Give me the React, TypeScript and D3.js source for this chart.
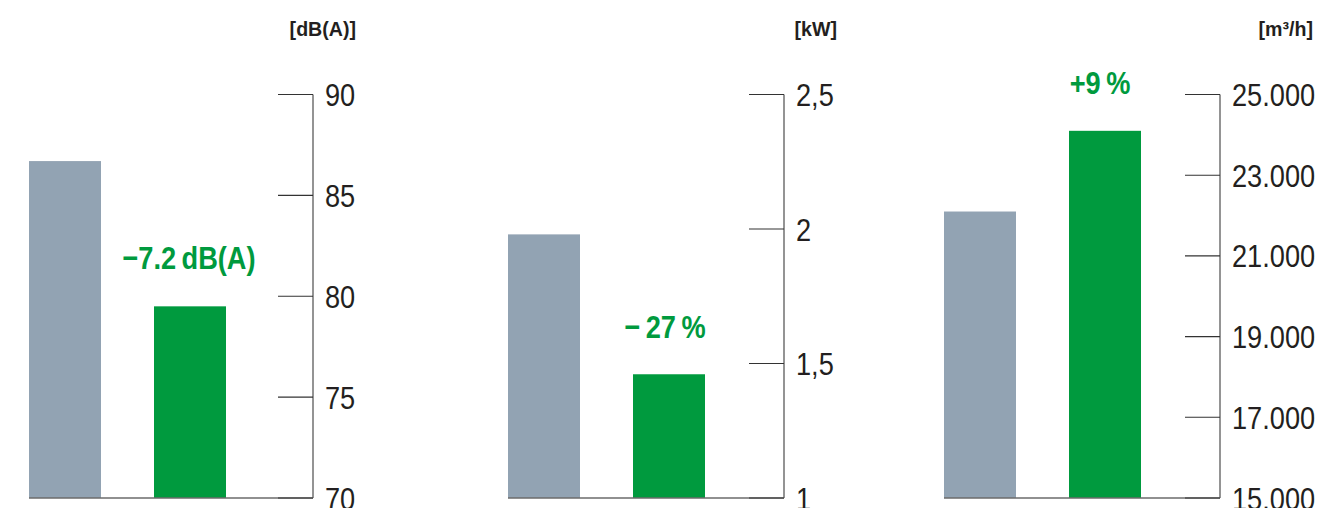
import React from "react";
import * as d3 from "d3";

// ---- data ----
const categories = ["old", "new"];
const noiseValues = [86.7, 79.5];
const powerValues = [1.98, 1.46];
const airflowValues = [22100, 24100];
const noiseTicks = [70, 75, 80, 85, 90];
const powerTicks = [1, 1.5, 2, 2.5];
const airflowTicks = [15000, 17000, 19000, 21000, 23000, 25000];
const units = ["[dB(A)]", "[kW]", "[m³/h]"];
const deltaLabels = ["\u22127.2\u2009dB(A)", "\u2212\u200927\u2009%", "+9\u2009%"];

const fmtNoise = (v: number) => String(v);
const fmtPower = (v: number) => String(v).replace(".", ",");
const fmtAir = (v: number) => d3.format(",")(v).replace(",", ".");

const W = 1320;
const H = 508;
const GRAY = "#92a3b3";
const GREEN = "#009a3e";
const TEXT = "#231f20";
const FONT = "'Liberation Sans', Arial, sans-serif";

type PanelDef = {
  values: number[];
  ticks: number[];
  domain: [number, number];
  fmt: (v: number) => string;
  unit: string;
  delta: string;
  barStart: number;
  axisX: number;
  labelAbove: number;
  labelDx: number;
  unitRight: number;
};

const panels: PanelDef[] = [
  { values: noiseValues, ticks: noiseTicks, domain: [70, 90], fmt: fmtNoise, unit: units[0], delta: deltaLabels[0], barStart: 29, axisX: 313, labelAbove: 37, labelDx: -1, unitRight: 356 },
  { values: powerValues, ticks: powerTicks, domain: [1, 2.5], fmt: fmtPower, unit: units[1], delta: deltaLabels[1], barStart: 508, axisX: 784, labelAbove: 36, labelDx: -4, unitRight: 837 },
  { values: airflowValues, ticks: airflowTicks, domain: [15000, 25000], fmt: fmtAir, unit: units[2], delta: deltaLabels[2], barStart: 944, axisX: 1220, labelAbove: 37, labelDx: -5, unitRight: 1313 },
];

const TOP = 94.5;
const BASE = 498;

function CText({
  x, y, sx, anchor, size, weight, fill, children,
}: {
  x: number; y: number; sx: number; anchor?: string; size: number; weight?: string; fill: string; children: React.ReactNode;
}) {
  return (
    <text
      transform={`translate(${x},${y}) scale(${sx},1)`}
      textAnchor={anchor || "start"}
      fontFamily={FONT}
      fontWeight={weight || "normal"}
      fontSize={size}
      fill={fill}
    >
      {children}
    </text>
  );
}

function Panel({ p }: { p: PanelDef }) {
  const y = d3.scaleLinear().domain(p.domain).range([BASE, TOP]);
  const x = d3
    .scaleBand<string>()
    .domain(categories)
    .range([p.barStart, p.barStart + 197])
    .paddingInner(0.424)
    .paddingOuter(0);
  const bw = x.bandwidth();
  const greenX = (x("new") as number) + bw / 2;
  return (
    <g>
      {p.values.map((v, i) => (
        <rect
          key={i}
          x={x(categories[i])}
          y={y(v)}
          width={bw}
          height={BASE - y(v)}
          fill={i === 0 ? GRAY : GREEN}
        />
      ))}
      <line x1={p.barStart} x2={p.axisX} y1={BASE} y2={BASE} stroke="#6b6b6b" strokeWidth={1.4} />
      <line x1={p.axisX} x2={p.axisX} y1={y(p.domain[1])} y2={BASE} stroke="#707070" strokeWidth={1.5} />
      {p.ticks.map((t) => (
        <g key={t}>
          <line x1={p.axisX - 35} x2={p.axisX} y1={y(t)} y2={y(t)} stroke="#333" strokeWidth={1.1} />
          <CText x={p.axisX + 12} y={y(t) + 11.5} sx={0.85} size={32} fill={TEXT}>
            {p.fmt(t)}
          </CText>
        </g>
      ))}
      <CText x={p.unitRight} y={35.5} sx={0.98} anchor="end" size={20} weight="bold" fill={TEXT}>
        {p.unit}
      </CText>
      <CText x={greenX + p.labelDx} y={y(p.values[1]) - p.labelAbove} sx={0.85} anchor="middle" size={32} weight="bold" fill={GREEN}>
        {p.delta}
      </CText>
    </g>
  );
}

export default function App() {
  return (
    <div style={{ position: "fixed", left: 0, top: 0, width: W, height: H, background: "#fff" }}>
      <svg width={W} height={H} viewBox={`0 0 ${W} ${H}`} style={{ display: "block" }}>
        <rect width={W} height={H} fill="#fff" />
        {panels.map((p, i) => (
          <Panel key={i} p={p} />
        ))}
      </svg>
    </div>
  );
}
